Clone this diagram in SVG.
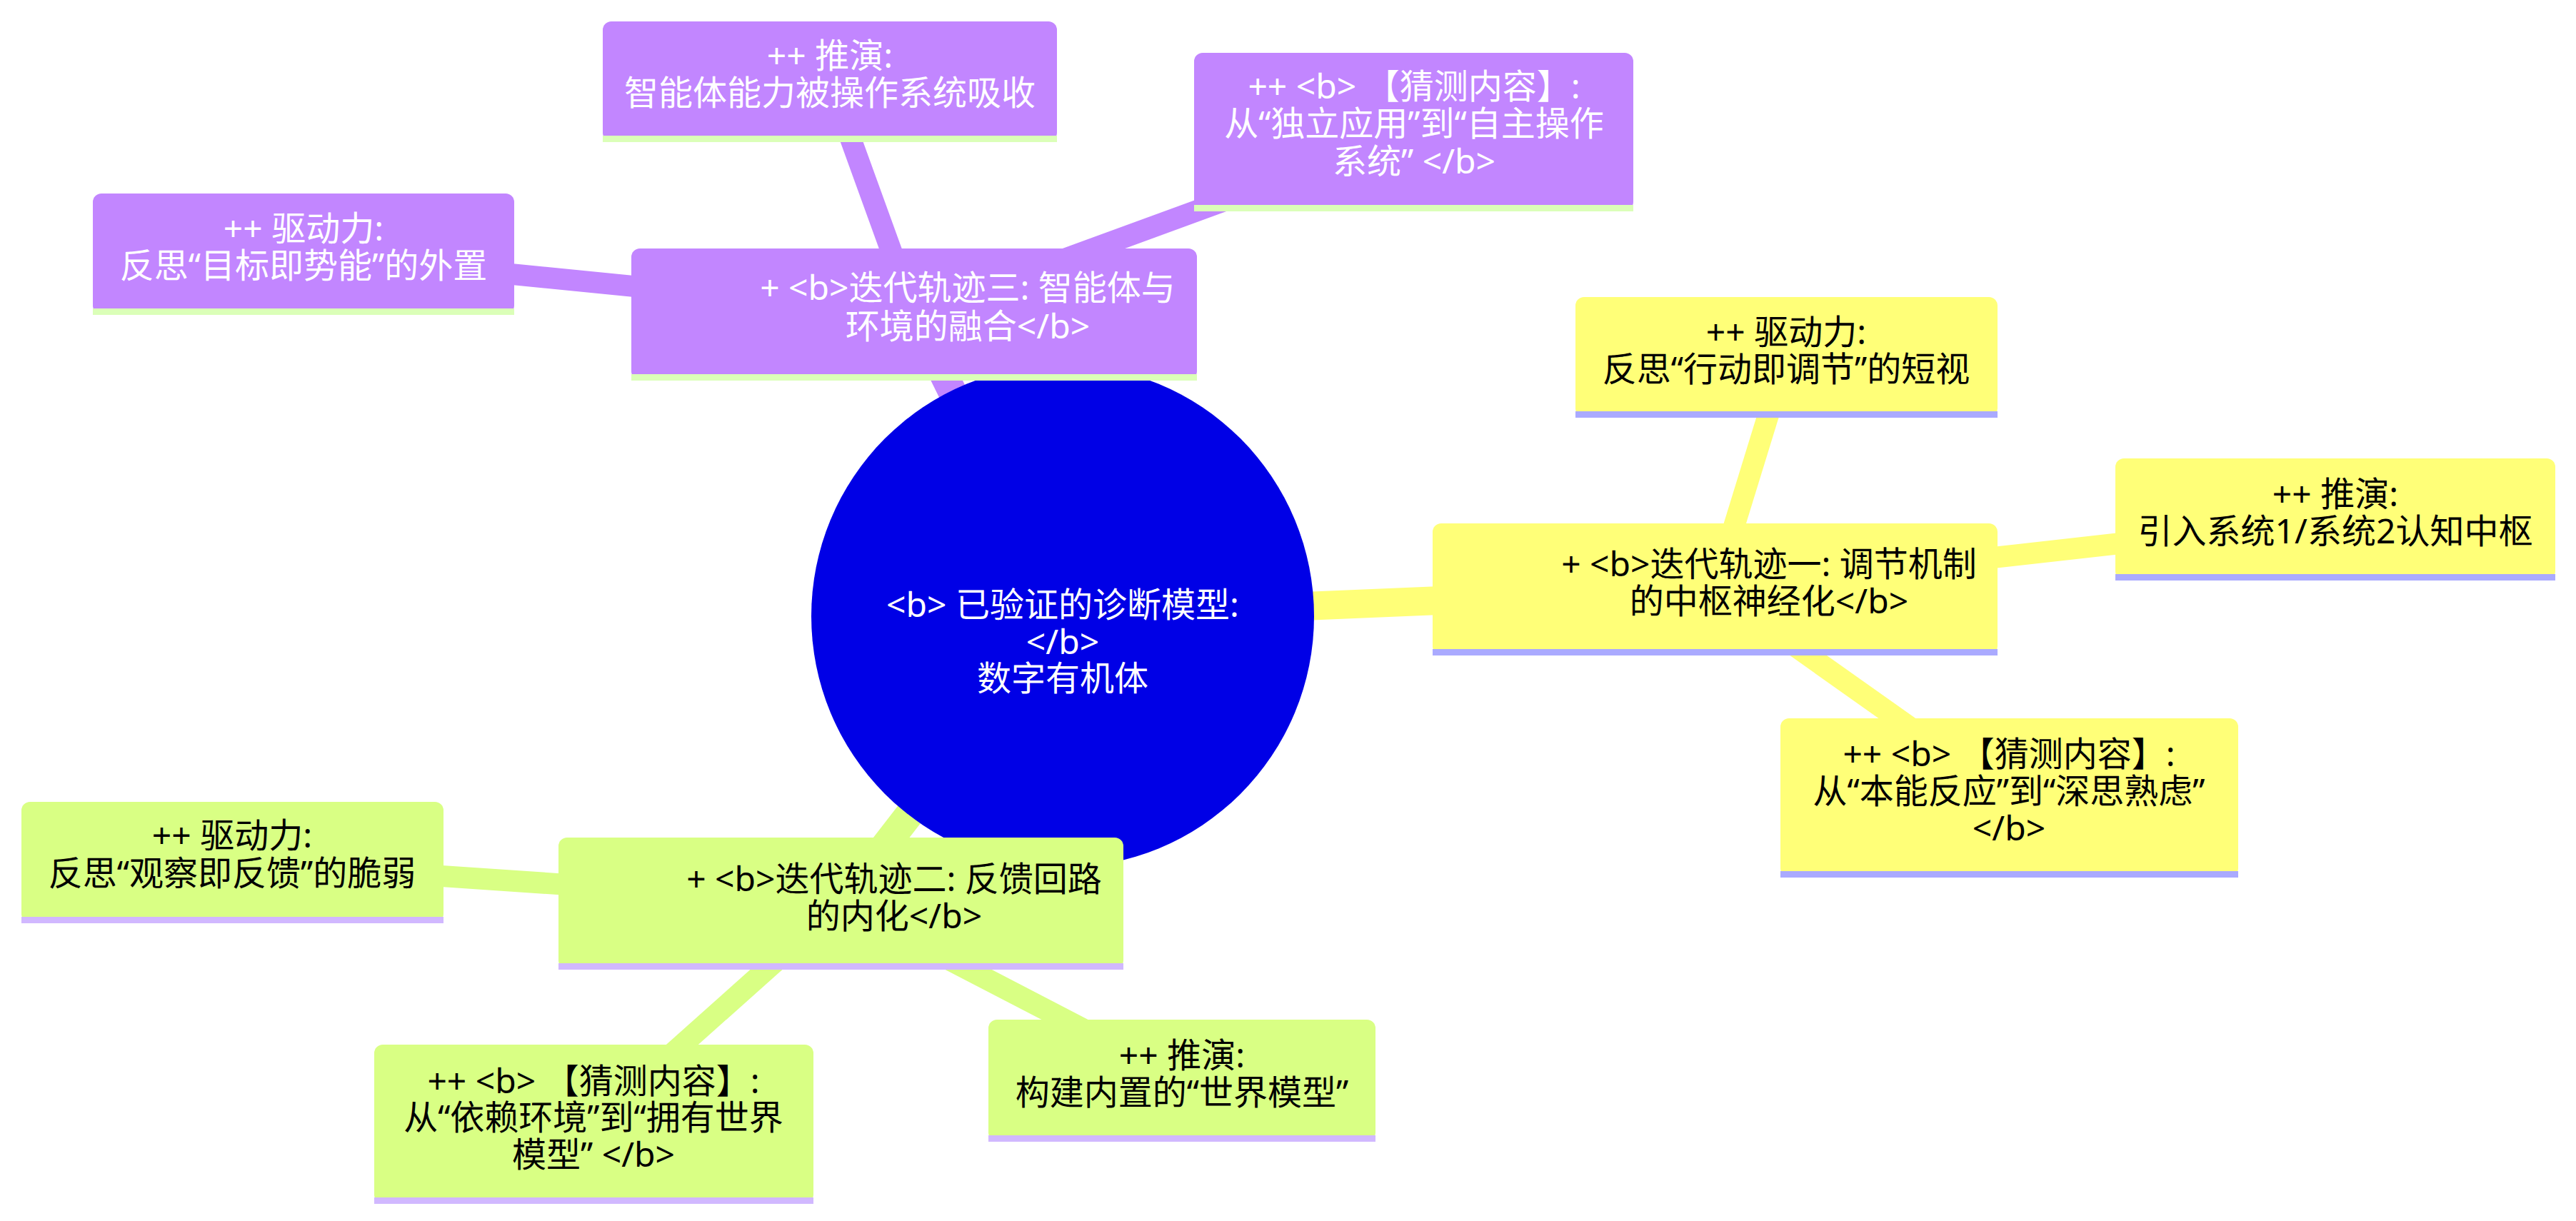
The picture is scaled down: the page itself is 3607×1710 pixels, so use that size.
<svg xmlns="http://www.w3.org/2000/svg" width="3607" height="1710" viewBox="0 0 3607 1710">
<style>
text{font-family:"Noto Sans","Noto Sans CJK SC",sans-serif;font-size:48px;text-anchor:middle;dominant-baseline:central}
.w{fill:#ffffff}.k{fill:#000000}
.e0{stroke:#ffff78;fill:none;stroke-linecap:butt}
.e1{stroke:#d9ff84;fill:none}
.e2{stroke:#c286ff;fill:none}
.m{stroke-width:40}.c{stroke-width:30}
.n0{fill:#ffff78}.n1{fill:#d9ff84}.n2{fill:#c286ff}
.b0{fill:#aaaaff}.b1{fill:#d1b8ff}.b2{fill:#dbffb8}
</style>
<rect width="3607" height="1710" fill="#ffffff"/>
<g id="connectors">
<line class="e0 m" x1="1488" y1="863" x2="2401" y2="825"/>
<line class="e0 c" x1="2401" y1="825" x2="2501" y2="500"/>
<line class="e0 c" x1="2401" y1="825" x2="3270" y2="727"/>
<line class="e0 c" x1="2401" y1="825" x2="2813" y2="1117"/>
<line class="e1 m" x1="1488" y1="863" x2="1177" y2="1265"/>
<line class="e1 c" x1="1177" y1="1265" x2="325" y2="1207"/>
<line class="e1 c" x1="1177" y1="1265" x2="831" y2="1574"/>
<line class="e1 c" x1="1177" y1="1265" x2="1655" y2="1513"/>
<line class="e2 m" x1="1488" y1="863" x2="1280" y2="440"/>
<line class="e2 c" x1="1280" y1="440" x2="425" y2="355"/>
<line class="e2 c" x1="1280" y1="440" x2="1162" y2="114"/>
<line class="e2 c" x1="1280" y1="440" x2="1980" y2="184"/>
</g>
<g id="root">
<circle cx="1488" cy="863" r="352" fill="#0000e6"/>
<text class="w" x="1488" y="845">&lt;b&gt; 已验证的诊断模型:</text>
<text class="w" x="1488" y="897">&lt;/b&gt;</text>
<text class="w" x="1488" y="948">数字有机体</text>
</g>
<g id="y-main">
<rect class="n0" x="2006" y="733" width="791" height="184" rx="12"/>
<rect class="b0" x="2006" y="909" width="791" height="9"/>
<text class="k" x="2477" y="788">+ &lt;b&gt;迭代轨迹一: 调节机制</text>
<text class="k" x="2477" y="840">的中枢神经化&lt;/b&gt;</text>
</g>
<g id="y-drive">
<rect class="n0" x="2206" y="416" width="591" height="168" rx="12"/>
<rect class="b0" x="2206" y="576" width="591" height="9"/>
<text class="k" x="2501" y="463">++ 驱动力:</text>
<text class="k" x="2501" y="515">反思“行动即调节”的短视</text>
</g>
<g id="y-deduce">
<rect class="n0" x="2962" y="642" width="616" height="170" rx="12"/>
<rect class="b0" x="2962" y="804" width="616" height="9"/>
<text class="k" x="3270" y="690">++ 推演:</text>
<text class="k" x="3270" y="742">引入系统1/系统2认知中枢</text>
</g>
<g id="y-guess">
<rect class="n0" x="2493" y="1006" width="641" height="222" rx="12"/>
<rect class="b0" x="2493" y="1220" width="641" height="9"/>
<text class="k" x="2813" y="1054">++ &lt;b&gt; 【猜测内容】:</text>
<text class="k" x="2813" y="1106">从“本能反应”到“深思熟虑”</text>
<text class="k" x="2813" y="1158">&lt;/b&gt;</text>
</g>
<g id="g-main">
<rect class="n1" x="782" y="1173" width="791" height="184" rx="12"/>
<rect class="b1" x="782" y="1349" width="791" height="9"/>
<text class="k" x="1252" y="1229">+ &lt;b&gt;迭代轨迹二: 反馈回路</text>
<text class="k" x="1252" y="1281">的内化&lt;/b&gt;</text>
</g>
<g id="g-drive">
<rect class="n1" x="30" y="1123" width="591" height="169" rx="12"/>
<rect class="b1" x="30" y="1284" width="591" height="9"/>
<text class="k" x="325" y="1168">++ 驱动力:</text>
<text class="k" x="325" y="1221">反思“观察即反馈”的脆弱</text>
</g>
<g id="g-guess">
<rect class="n1" x="524" y="1463" width="615" height="222" rx="12"/>
<rect class="b1" x="524" y="1677" width="615" height="9"/>
<text class="k" x="831" y="1512">++ &lt;b&gt; 【猜测内容】:</text>
<text class="k" x="831" y="1563">从“依赖环境”到“拥有世界</text>
<text class="k" x="831" y="1615">模型” &lt;/b&gt;</text>
</g>
<g id="g-deduce">
<rect class="n1" x="1384" y="1428" width="542" height="170" rx="12"/>
<rect class="b1" x="1384" y="1590" width="542" height="9"/>
<text class="k" x="1655" y="1476">++ 推演:</text>
<text class="k" x="1655" y="1528">构建内置的“世界模型”</text>
</g>
<g id="p-main">
<rect class="n2" x="884" y="348" width="792" height="184" rx="12"/>
<rect class="b2" x="884" y="524" width="792" height="9"/>
<text class="w" x="1355" y="401">+ &lt;b&gt;迭代轨迹三: 智能体与</text>
<text class="w" x="1355" y="455">环境的融合&lt;/b&gt;</text>
</g>
<g id="p-drive">
<rect class="n2" x="130" y="271" width="590" height="169" rx="12"/>
<rect class="b2" x="130" y="432" width="590" height="9"/>
<text class="w" x="425" y="318">++ 驱动力:</text>
<text class="w" x="425" y="370">反思“目标即势能”的外置</text>
</g>
<g id="p-deduce">
<rect class="n2" x="844" y="30" width="636" height="168" rx="12"/>
<rect class="b2" x="844" y="190" width="636" height="9"/>
<text class="w" x="1162" y="76">++ 推演:</text>
<text class="w" x="1162" y="128">智能体能力被操作系统吸收</text>
</g>
<g id="p-guess">
<rect class="n2" x="1672" y="74" width="615" height="221" rx="12"/>
<rect class="b2" x="1672" y="287" width="615" height="9"/>
<text class="w" x="1980" y="119">++ &lt;b&gt; 【猜测内容】:</text>
<text class="w" x="1980" y="171">从“独立应用”到“自主操作</text>
<text class="w" x="1980" y="224">系统” &lt;/b&gt;</text>
</g>
</svg>
